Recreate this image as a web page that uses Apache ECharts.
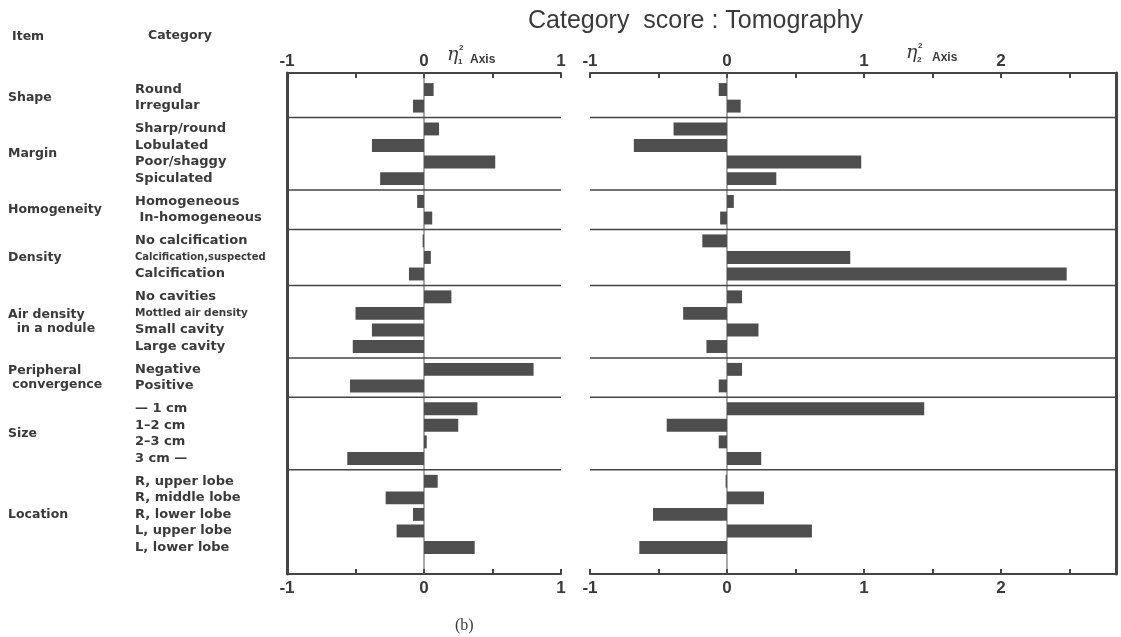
<!DOCTYPE html>
<html><head><meta charset="utf-8">
<script src="https://cdn.jsdelivr.net/npm/echarts@6/dist/echarts.min.js"></script>
<style>html,body{margin:0;padding:0;background:#fff;}#c{width:1121px;height:637px;}</style>
</head><body><div id="c"></div>
<script>
// ---- data ----
const items = ['Shape', 'Margin', 'Homogeneity', 'Density', 'Air density\n  in a nodule', 'Peripheral\n convergence', 'Size', 'Location'];
const groupSizes = [2, 4, 2, 3, 4, 2, 4, 5];
const categories = ['Round', 'Irregular', 'Sharp/round', 'Lobulated', 'Poor/shaggy', 'Spiculated',
  'Homogeneous', ' In-homogeneous', 'No calcification', 'Calcification,suspected', 'Calcification',
  'No cavities', 'Mottled air density', 'Small cavity', 'Large cavity', 'Negative', 'Positive',
  '— 1 cm', '1–2 cm', '2–3 cm', '3 cm —',
  'R, upper lobe', 'R, middle lobe', 'R, lower lobe', 'L, upper lobe', 'L, lower lobe'];
const axis1Scores = [0.07, -0.08, 0.11, -0.38, 0.52, -0.32, -0.05, 0.06, -0.01, 0.05, -0.11,
  0.20, -0.50, -0.38, -0.52, 0.80, -0.54, 0.39, 0.25, 0.02, -0.56, 0.10, -0.28, -0.08, -0.20, 0.37];
const axis2Scores = [-0.06, 0.10, -0.39, -0.68, 0.98, 0.36, 0.05, -0.05, -0.18, 0.90, 2.48,
  0.11, -0.32, 0.23, -0.15, 0.11, -0.06, 1.44, -0.44, -0.06, 0.25, -0.01, 0.27, -0.54, 0.62, -0.64];
const axis1TickLabels = [-1, 0, 1];
const axis2TickLabels = [-1, 0, 1, 2];
const axis1Range = [-1, 1];
const axis2Range = [-1, 2.84];

// ---- layout (row units) ----
const TOP_PAD = 1, GAP = 0.38, BOTTOM_PAD = 1.6, BAR = 0.78;
const rowPos = [];
let idx = 0;
groupSizes.forEach((n, k) => { for (let j = 0; j < n; j++) { rowPos.push(TOP_PAD + idx + k * GAP); idx++; } });
const yMax = rowPos[rowPos.length - 1] + BOTTOM_PAD;
const groupCenters = [], separators = [];
let st = 0;
groupSizes.forEach((n, k) => {
  const a = rowPos[st], b = rowPos[st + n - 1];
  groupCenters.push((a + b) / 2);
  if (k < groupSizes.length - 1) separators.push(b + (1 + GAP) / 2);
  st += n;
});
const key = v => Number(v).toFixed(3);
const catMap = {}; rowPos.forEach((p, i) => catMap[key(p)] = categories[i]);
const itemMap = {}; groupCenters.forEach((p, i) => itemMap[key(p)] = items[i]);

const FONT = 'Liberation Sans';
const LFONT = 'DejaVu Sans';
const INK = '#3a3a3a';

function xAxisDef(gridIndex, position, range, labels) {
  return {
    type: 'value', gridIndex, position, min: range[0], max: range[1], interval: 0.5,
    axisLine: { show: true, onZero: false, lineStyle: { color: '#444', width: 2 } },
    axisTick: { show: true, inside: true, length: 5, lineStyle: { color: '#444', width: 2 } },
    axisLabel: {
      show: true, margin: position === 'top' ? 3 : 6, color: INK, fontSize: 17, fontWeight: 'bold', fontFamily: FONT,
      formatter: v => labels.includes(v) ? String(v) : ''
    },
    splitLine: { show: false }
  };
}
function yBase(gridIndex, position) {
  return { type: 'value', gridIndex, position, inverse: true, min: 0, max: yMax,
    axisTick: { show: false }, splitLine: { show: false } };
}

function barSeries(xi, yi, scores, name) {
  return {
    type: 'custom', name, xAxisIndex: xi, yAxisIndex: yi, encode: { x: 0, y: 1 }, z: 3,
    data: scores.map((v, i) => [v, rowPos[i]]),
    renderItem: (params, api) => {
      const v = api.value(0), y = api.value(1);
      const a = api.coord([0, y]), b = api.coord([v, y]);
      const h = api.size([0, BAR])[1];
      return { type: 'rect', shape: { x: Math.min(a[0], b[0]), y: a[1] - h / 2, width: Math.abs(b[0] - a[0]), height: h },
        style: { fill: '#4e4e4e' } };
    }
  };
}
function sepSeries(xi, yi, range) {
  return {
    type: 'custom', xAxisIndex: xi, yAxisIndex: yi, encode: { x: 0, y: 1 }, z: 2,
    data: separators.map(s => [0, s]),
    renderItem: (params, api) => {
      const y = api.value(1);
      const a = api.coord([range[0], y]), b = api.coord([range[1], y]);
      return { type: 'line', shape: { x1: a[0], y1: a[1], x2: b[0], y2: b[1] }, style: { stroke: '#444', lineWidth: 1.5 } };
    }
  };
}
function zeroSeries(xi, yi) {
  return {
    type: 'custom', xAxisIndex: xi, yAxisIndex: yi, encode: { x: 0, y: 1 }, z: 1,
    data: [[0, 0]],
    renderItem: (params, api) => {
      const a = api.coord([0, 0]), b = api.coord([0, yMax]);
      return { type: 'line', shape: { x1: a[0], y1: a[1], x2: b[0], y2: b[1] }, style: { stroke: '#555', lineWidth: 1 } };
    }
  };
}

const chart = echarts.init(document.getElementById('c'));
chart.setOption({
  animation: false,
  backgroundColor: '#fff',
  textStyle: { fontFamily: FONT },
  title: [
    { text: 'Category  score : Tomography', left: 528, top: 9, padding: 0, textStyle: { fontSize: 25, fontWeight: 'normal', color: INK, fontFamily: FONT } },
    { text: 'Item', left: 12, top: 30, padding: 0, textStyle: { fontSize: 12.5, fontWeight: 'bold', color: INK, fontFamily: LFONT } },
    { text: 'Category', left: 148, top: 29, padding: 0, textStyle: { fontSize: 12.5, fontWeight: 'bold', color: INK, fontFamily: LFONT } },
    { text: '(b)', left: 455, top: 618, padding: 0, textStyle: { fontSize: 16, fontWeight: 'normal', color: INK, fontFamily: 'Liberation Serif' } }
  ],
  graphic: [
    { type: 'text', left: 447, top: 46, style: { text: 'η', fontSize: 19, fontStyle: 'italic', fontFamily: 'DejaVu Serif', fill: INK } },
    { type: 'text', left: 459, top: 44, style: { text: '2', fontSize: 8, fontWeight: 'bold', fontFamily: FONT, fill: INK } },
    { type: 'text', left: 458, top: 58, style: { text: '1', fontSize: 8, fontWeight: 'bold', fontFamily: FONT, fill: INK } },
    { type: 'text', left: 470, top: 54, style: { text: 'Axis', fontSize: 12, fontWeight: 'bold', fontFamily: FONT, fill: INK } },
    { type: 'text', left: 906, top: 44, style: { text: 'η', fontSize: 19, fontStyle: 'italic', fontFamily: 'DejaVu Serif', fill: INK } },
    { type: 'text', left: 918, top: 42, style: { text: '2', fontSize: 8, fontWeight: 'bold', fontFamily: FONT, fill: INK } },
    { type: 'text', left: 917, top: 56, style: { text: '2', fontSize: 8, fontWeight: 'bold', fontFamily: FONT, fill: INK } },
    { type: 'text', left: 932, top: 52, style: { text: 'Axis', fontSize: 12, fontWeight: 'bold', fontFamily: FONT, fill: INK } }
  ],
  grid: [
    { left: 287, top: 73, width: 274, height: 501 },
    { left: 590, top: 73, width: 526, height: 501 }
  ],
  xAxis: [
    xAxisDef(0, 'top', axis1Range, axis1TickLabels),
    xAxisDef(0, 'bottom', axis1Range, axis1TickLabels),
    xAxisDef(1, 'top', axis2Range, axis2TickLabels),
    xAxisDef(1, 'bottom', axis2Range, axis2TickLabels)
  ],
  yAxis: [
    Object.assign(yBase(0, 'left'), {
      axisLine: { show: true, onZero: false, lineStyle: { color: '#444', width: 3 } },
      axisLabel: {
        show: true, customValues: rowPos, margin: 152, align: 'left', color: INK, fontSize: 13, fontWeight: 'bold', fontFamily: LFONT,
        formatter: v => {
          const t = catMap[key(v)] || '';
          if (t === 'Calcification,suspected') return '{n|' + t + '}';
          if (t === 'Mottled air density') return '{m|' + t + '}';
          return t;
        },
        rich: {
          n: { fontSize: 10, fontWeight: 'bold', color: INK, fontFamily: LFONT },
          m: { fontSize: 10.5, fontWeight: 'bold', color: INK, fontFamily: LFONT }
        }
      }
    }),
    Object.assign(yBase(0, 'left'), {
      axisLine: { show: false, onZero: false },
      axisLabel: {
        show: true, customValues: groupCenters, margin: 279, align: 'left', color: INK, fontSize: 12.5, fontWeight: 'bold', fontFamily: LFONT,
        lineHeight: 14, formatter: v => itemMap[key(v)] || ''
      }
    }),
    Object.assign(yBase(1, 'right'), {
      axisLine: { show: true, onZero: false, lineStyle: { color: '#444', width: 3 } },
      axisLabel: { show: false }
    })
  ],
  series: [
    zeroSeries(0, 0), sepSeries(0, 0, axis1Range), barSeries(0, 0, axis1Scores, 'Axis 1'),
    zeroSeries(2, 2), sepSeries(2, 2, axis2Range), barSeries(2, 2, axis2Scores, 'Axis 2')
  ]
});
</script></body></html>
